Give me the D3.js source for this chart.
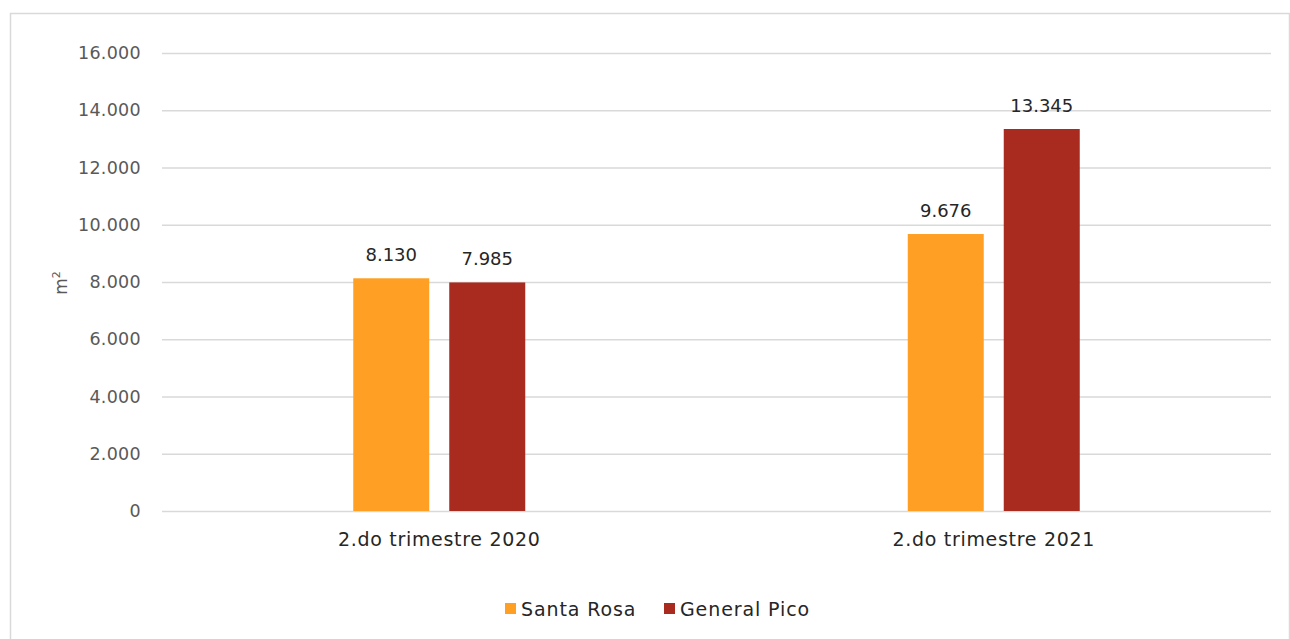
<!DOCTYPE html>
<html lang="es">
<head>
<meta charset="utf-8">
<title>m2 por trimestre</title>
<script src="https://d3js.org/d3.v7.min.js"></script>
<style>
  body { margin: 0; background: #fff; }
  svg { display: block; font-family: "DejaVu Sans", sans-serif; }
</style>
</head>
<body>
<script>
// datos
var categories = ["2.do trimestre 2020", "2.do trimestre 2021"];
var seriesNames = ["Santa Rosa", "General Pico"];
var santaRosa = [8130, 9676];
var generalPico = [7985, 13345];
var yTicks = [0, 2000, 4000, 6000, 8000, 10000, 12000, 14000, 16000];
var colors = ["#FFA024", "#A92A1F"];

var w = 1290, h = 639;
var mLeft = 162, mRight = 1271, mTop = 53, mBottom = 511;

var fmt = function(v) { return d3.format(",")(v).replace(/,/g, "."); };

var svg = d3.select("body").append("svg").attr("width", w).attr("height", h);

// marco
svg.append("rect")
  .attr("x", 10.5).attr("y", 13.5)
  .attr("width", 1289 - 10).attr("height", 700)
  .attr("fill", "none").attr("stroke", "#d9d9d9").attr("stroke-width", 1.5);

var x0 = d3.scaleBand().domain(categories).range([mLeft, mRight]);
var y = d3.scaleLinear().domain([0, 16000]).range([mBottom, mTop]);

// lineas de grilla
svg.selectAll(".grid").data(yTicks).enter().append("line")
  .attr("x1", mLeft).attr("x2", mRight)
  .attr("y1", function(d) { return y(d) + 0.5; })
  .attr("y2", function(d) { return y(d) + 0.5; })
  .attr("stroke", "#d9d9d9").attr("stroke-width", 1.5);

// etiquetas eje y
svg.selectAll(".ytick").data(yTicks).enter().append("text")
  .attr("x", 141).attr("y", function(d) { return y(d); })
  .attr("dy", "0.35em").attr("text-anchor", "end")
  .attr("font-size", 17.5).attr("letter-spacing", 0.3).attr("fill", "#595959")
  .text(fmt);

// titulo eje y
svg.append("text")
  .attr("transform", "translate(67," + 283 + ") rotate(-90)")
  .attr("text-anchor", "middle").attr("font-size", 17).attr("fill", "#595959")
  .html("m<tspan dy='-7' font-size='11'>2</tspan>");

var barW = 76, gap = 20;
var data = categories.map(function(c, i) {
  return [santaRosa[i], generalPico[i]].map(function(v, j) {
    return { cat: c, v: v, s: j };
  });
});

var groups = svg.selectAll(".g").data(data).enter().append("g");

groups.selectAll("rect").data(function(d) { return d; }).enter().append("rect")
  .attr("x", function(d) {
    var c = x0(d.cat) + x0.bandwidth() / 2;
    return d.s === 0 ? c - gap / 2 - barW : c + gap / 2;
  })
  .attr("y", function(d) { return y(d.v); })
  .attr("width", barW)
  .attr("height", function(d) { return mBottom - y(d.v); })
  .attr("fill", function(d) { return colors[d.s]; });

groups.selectAll("text").data(function(d) { return d; }).enter().append("text")
  .attr("x", function(d) {
    var c = x0(d.cat) + x0.bandwidth() / 2;
    return d.s === 0 ? c - gap / 2 - barW / 2 : c + gap / 2 + barW / 2;
  })
  .attr("y", function(d) { return y(d.v) - 17; })
  .attr("text-anchor", "middle").attr("font-size", 18).attr("fill", "#262626")
  .text(function(d) { return fmt(d.v); });

// etiquetas categorias
svg.selectAll(".cat").data(categories).enter().append("text")
  .attr("x", function(d) { return x0(d) + x0.bandwidth() / 2; })
  .attr("y", 546)
  .attr("text-anchor", "middle").attr("font-size", 19).attr("letter-spacing", 0.7)
  .attr("fill", "#262626")
  .text(function(d) { return d; });

// leyenda
var legX = [505, 664];
var leg = svg.selectAll(".leg").data(seriesNames).enter().append("g")
  .attr("transform", function(d, i) { return "translate(" + legX[i] + ",603)"; });
leg.append("rect").attr("width", 11).attr("height", 11)
  .attr("fill", function(d, i) { return colors[i]; });
leg.append("text").attr("x", 16).attr("y", 6).attr("dy", "0.35em")
  .attr("font-size", 19).attr("letter-spacing", 0.9).attr("fill", "#262626")
  .text(function(d) { return d; });
</script>
</body>
</html>
